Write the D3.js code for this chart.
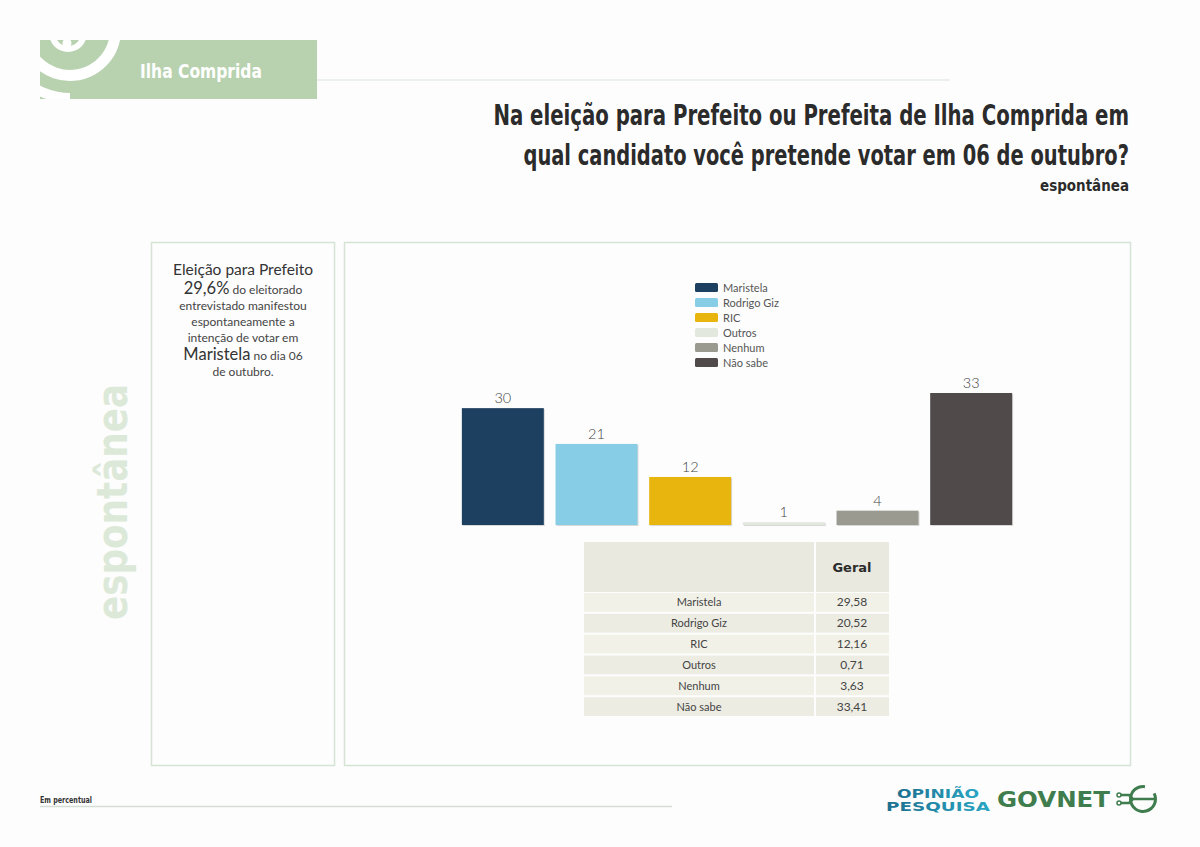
<!DOCTYPE html>
<html>
<head>
<meta charset="utf-8">
<script src="https://cdn.jsdelivr.net/npm/d3@7"></script>
<style>
  body { margin: 0; background: #fdfdfd; }
  svg { display: block; }
  .cond { font-family: "Liberation Sans Narrow", "DejaVu Sans Condensed", Roboto, sans-serif; font-weight: bold; }
  .body { font-family: "Lato", "Noto Sans", sans-serif; }
</style>
</head>
<body>
<div id="chart"></div>
<script>
// Data ----------------------------------------------------------------------------------------
const categories = ["Maristela", "Rodrigo Giz", "RIC", "Outros", "Nenhum", "Não sabe"];
const values = [29.58, 20.52, 12.16, 0.71, 3.63, 33.41];
const tableValues = ["29,58", "20,52", "12,16", "0,71", "3,63", "33,41"];
const colors = ["#1e4060", "#87cde5", "#e8b40e", "#e3e8df", "#9a9a91", "#504a4a"];

const titleLines = [
  "Na eleição para Prefeito ou Prefeita de Ilha Comprida em",
  "qual candidato você pretende votar em 06 de outubro?"
];
const titleWidths = [636, 606];

// SVG -----------------------------------------------------------------------------------------
const svg = d3.select("#chart").append("svg")
  .attr("width", 1200)
  .attr("height", 847);

svg.append("rect").attr("width", 1200).attr("height", 847).attr("fill", "#fdfdfd");

// squeeze a text horizontally to a target width (no narrow font installed)
const squeeze = (sel, width) => {
  const w = sel.node().getComputedTextLength();
  const k = w > width ? width / w : 1;
  sel.attr("transform", `${sel.attr("transform") || ""} scale(${k},1)`);
};

// Header --------------------------------------------------------------------------------------
svg.append("line")
  .attr("x1", 317).attr("x2", 950).attr("y1", 80).attr("y2", 80)
  .attr("stroke", "#d9e3dc").attr("stroke-width", 1.2);

svg.append("rect")
  .attr("x", 40).attr("y", 40).attr("width", 277).attr("height", 59)
  .attr("fill", "#b8d2b0");

// logo arcs, clipped to the box
svg.append("clipPath").attr("id", "hdrclip")
  .append("rect").attr("x", 40).attr("y", 40).attr("width", 277).attr("height", 59);
const logo = svg.append("g").attr("clip-path", "url(#hdrclip)");
const arc = d3.arc();
logo.append("path")
  .attr("transform", "translate(68,33)")
  .attr("d", arc({innerRadius: 13, outerRadius: 19, startAngle: Math.PI * 0.5, endAngle: Math.PI * 1.5}))
  .attr("fill", "#fff");
logo.append("path")
  .attr("transform", "translate(70,30)")
  .attr("d", arc({innerRadius: 40, outerRadius: 51, startAngle: Math.PI * 0.45, endAngle: Math.PI * 1.5}))
  .attr("fill", "#fff");
logo.append("path")
  .attr("transform", "translate(70,30)")
  .attr("d", arc({innerRadius: 63, outerRadius: 73, startAngle: Math.PI * 1.0, endAngle: Math.PI * 1.5}))
  .attr("fill", "#fff");
logo.append("circle").attr("cx", 67).attr("cy", 43).attr("r", 4.5).attr("fill", "#fff");

squeeze(svg.append("text")
  .attr("class", "cond")
  .attr("transform", "translate(140,78)")
  .attr("font-size", 20)
  .attr("fill", "#fff")
  .text("Ilha Comprida"), 122);

// Title
titleLines.forEach((t, i) => {
  squeeze(svg.append("text")
    .attr("class", "cond title")
    .attr("transform", `translate(1129,${125 + i * 40})`)
    .attr("text-anchor", "end")
    .attr("font-size", 28)
    .attr("fill", "#2b2b2b")
    .text(t), titleWidths[i]);
});

squeeze(svg.append("text")
  .attr("class", "cond")
  .attr("transform", "translate(1129,191)")
  .attr("text-anchor", "end")
  .attr("font-size", 16)
  .attr("fill", "#2b2b2b")
  .text("espontânea"), 89);

// Panels --------------------------------------------------------------------------------------
svg.append("rect")
  .attr("x", 151.5).attr("y", 242.5).attr("width", 183).attr("height", 523)
  .attr("fill", "none").attr("stroke", "#d6e4d6").attr("stroke-width", 1.5);
svg.append("rect")
  .attr("x", 344.5).attr("y", 242.5).attr("width", 786).attr("height", 523)
  .attr("fill", "none").attr("stroke", "#d6e4d6").attr("stroke-width", 1.5);

// vertical side word
svg.append("text")
  .attr("transform", "translate(127,502) rotate(-90)")
  .attr("text-anchor", "middle")
  .attr("font-family", "'DejaVu Sans', sans-serif")
  .attr("font-weight", "bold")
  .attr("font-size", 42)
  .attr("fill", "#dce9d8")
  .attr("textLength", 236)
  .attr("lengthAdjust", "spacingAndGlyphs")
  .text("espontânea");

// Left text block
const note = svg.append("text")
  .attr("class", "body")
  .attr("text-anchor", "middle")
  .attr("fill", "#333");
const noteLines = [
  [["Eleição para Prefeito", 15.5]],
  [["29,6%", 16.5], [" do eleitorado", 12]],
  [["entrevistado manifestou", 12]],
  [["espontaneamente a", 12]],
  [["intenção de votar em", 12]],
  [["Maristela", 16.5], [" no dia 06", 12]],
  [["de outubro.", 12]]
];
const noteY = [275, 294, 310, 326, 342, 360, 376];
noteLines.forEach((parts, i) => {
  parts.forEach(([t, s], j) => {
    const ts = note.append("tspan").attr("font-size", s).text(t);
    if (j === 0) ts.attr("x", 243).attr("y", noteY[i]);
    if (s < 14) ts.attr("fill", "#444");
  });
});

// Bars ----------------------------------------------------------------------------------------
const x = d3.scaleBand()
  .domain(categories)
  .range([456, 1018])
  .paddingInner(0.125)
  .paddingOuter(0.0625);

const y = d3.scaleLinear()
  .domain([0, 33.41])
  .range([525, 393]);

const bars = svg.append("g");
bars.selectAll("rect.shadow")
  .data(categories)
  .join("rect")
  .attr("class", "shadow")
  .attr("x", d => x(d) + 1)
  .attr("y", (d, i) => y(values[i]) + 1)
  .attr("width", x.bandwidth())
  .attr("height", (d, i) => y(0) - y(values[i]))
  .attr("fill", "#d8d8d8");

bars.selectAll("rect.bar")
  .data(categories)
  .join("rect")
  .attr("class", "bar")
  .attr("x", d => x(d))
  .attr("y", (d, i) => y(values[i]))
  .attr("width", x.bandwidth())
  .attr("height", (d, i) => y(0) - y(values[i]))
  .attr("fill", (d, i) => colors[i]);

bars.selectAll("text.val")
  .data(categories)
  .join("text")
  .attr("class", "val body")
  .attr("x", d => x(d) + x.bandwidth() / 2)
  .attr("y", (d, i) => y(values[i]) - 5)
  .attr("text-anchor", "middle")
  .attr("font-size", 14.5)
  .attr("font-weight", 300)
  .attr("fill", "#444")
  .text((d, i) => Math.round(values[i]));

// Legend --------------------------------------------------------------------------------------
const legend = svg.append("g").attr("transform", "translate(695,283)");
const li = legend.selectAll("g")
  .data(categories)
  .join("g")
  .attr("transform", (d, i) => `translate(0,${i * 15})`);
li.append("rect")
  .attr("width", 23).attr("height", 9).attr("rx", 1.5)
  .attr("fill", (d, i) => colors[i]);
li.append("text")
  .attr("class", "body")
  .attr("x", 28).attr("y", 9)
  .attr("font-size", 11)
  .attr("fill", "#555")
  .text(d => d);

// Table ---------------------------------------------------------------------------------------
const table = svg.append("g");
table.append("rect").attr("x", 584).attr("y", 542).attr("width", 230).attr("height", 50).attr("fill", "#e9e9e0");
table.append("rect").attr("x", 816).attr("y", 542).attr("width", 73).attr("height", 50).attr("fill", "#e9e9e0");
table.append("text")
  .attr("x", 852).attr("y", 572)
  .attr("text-anchor", "middle")
  .attr("font-family", "'DejaVu Sans', sans-serif")
  .attr("font-weight", "bold")
  .attr("font-size", 13)
  .attr("fill", "#2b2b2b")
  .text("Geral");

const rowY = d3.scaleBand().domain(categories).range([593, 716]).paddingInner(0.1);
const rows = table.selectAll("g.row")
  .data(categories)
  .join("g")
  .attr("class", "row")
  .attr("transform", d => `translate(0,${rowY(d)})`);
rows.append("rect")
  .attr("x", 584).attr("width", 230).attr("height", rowY.bandwidth())
  .attr("fill", (d, i) => i % 2 ? "#ecece3" : "#f1f1e8");
rows.append("rect")
  .attr("x", 816).attr("width", 73).attr("height", rowY.bandwidth())
  .attr("fill", (d, i) => i % 2 ? "#ecece3" : "#f1f1e8");
rows.append("text")
  .attr("class", "body")
  .attr("x", 699).attr("y", rowY.bandwidth() / 2 + 4)
  .attr("text-anchor", "middle")
  .attr("font-size", 11)
  .attr("fill", "#444")
  .text(d => d);
rows.append("text")
  .attr("class", "body")
  .attr("x", 852).attr("y", rowY.bandwidth() / 2 + 4)
  .attr("text-anchor", "middle")
  .attr("font-size", 12)
  .attr("fill", "#444")
  .text((d, i) => tableValues[i]);

// Footer --------------------------------------------------------------------------------------
squeeze(svg.append("text")
  .attr("class", "cond")
  .attr("transform", "translate(40,803)")
  .attr("font-size", 9)
  .attr("fill", "#333")
  .text("Em percentual"), 52);
svg.append("line")
  .attr("x1", 40).attr("x2", 672).attr("y1", 806.5).attr("y2", 806.5)
  .attr("stroke", "#d5ddd8").attr("stroke-width", 1.5);

// Logos
const opGrad = svg.append("defs").append("linearGradient").attr("id", "opg")
  .attr("x1", 0).attr("x2", 1).attr("y1", 0).attr("y2", 0);
opGrad.append("stop").attr("offset", 0).attr("stop-color", "#1d6f8f");
opGrad.append("stop").attr("offset", 1).attr("stop-color", "#2aa6c4");
[["OPINIÃO", 798, 82, 897], ["PESQUISA", 811, 104, 886]].forEach(([t, yy, w, xx]) => {
  svg.append("text")
    .attr("x", xx).attr("y", yy)
    .attr("font-family", "'DejaVu Sans', sans-serif")
    .attr("font-weight", "bold")
    .attr("font-size", 12)
    .attr("fill", "url(#opg)")
    .attr("textLength", w)
    .attr("lengthAdjust", "spacingAndGlyphs")
    .text(t);
});
svg.append("text")
  .attr("x", 997).attr("y", 807)
  .attr("font-family", "'DejaVu Sans', sans-serif")
  .attr("font-weight", "bold")
  .attr("font-size", 21)
  .attr("fill", "#3f7d4e")
  .attr("textLength", 113)
  .attr("lengthAdjust", "spacingAndGlyphs")
  .text("GOVNET");
const g = svg.append("g").attr("transform", "translate(1143,799)");
g.append("path")
  .attr("d", arc({innerRadius: 11, outerRadius: 14, startAngle: 0.35 * Math.PI, endAngle: 2.05 * Math.PI}))
  .attr("fill", "#3f7d4e");
g.append("path")
  .attr("d", "M0,0 H13 M-24,-4 H-14 L-10,0 H0 M-24,4 H-14 L-10,0")
  .attr("stroke", "#3f7d4e").attr("stroke-width", 2.5).attr("fill", "none");
g.append("circle").attr("cx", -24).attr("cy", -4).attr("r", 2).attr("fill", "#fff").attr("stroke", "#3f7d4e").attr("stroke-width", 1.5);
g.append("circle").attr("cx", -24).attr("cy", 4).attr("r", 2).attr("fill", "#fff").attr("stroke", "#3f7d4e").attr("stroke-width", 1.5);
</script>
</body>
</html>
